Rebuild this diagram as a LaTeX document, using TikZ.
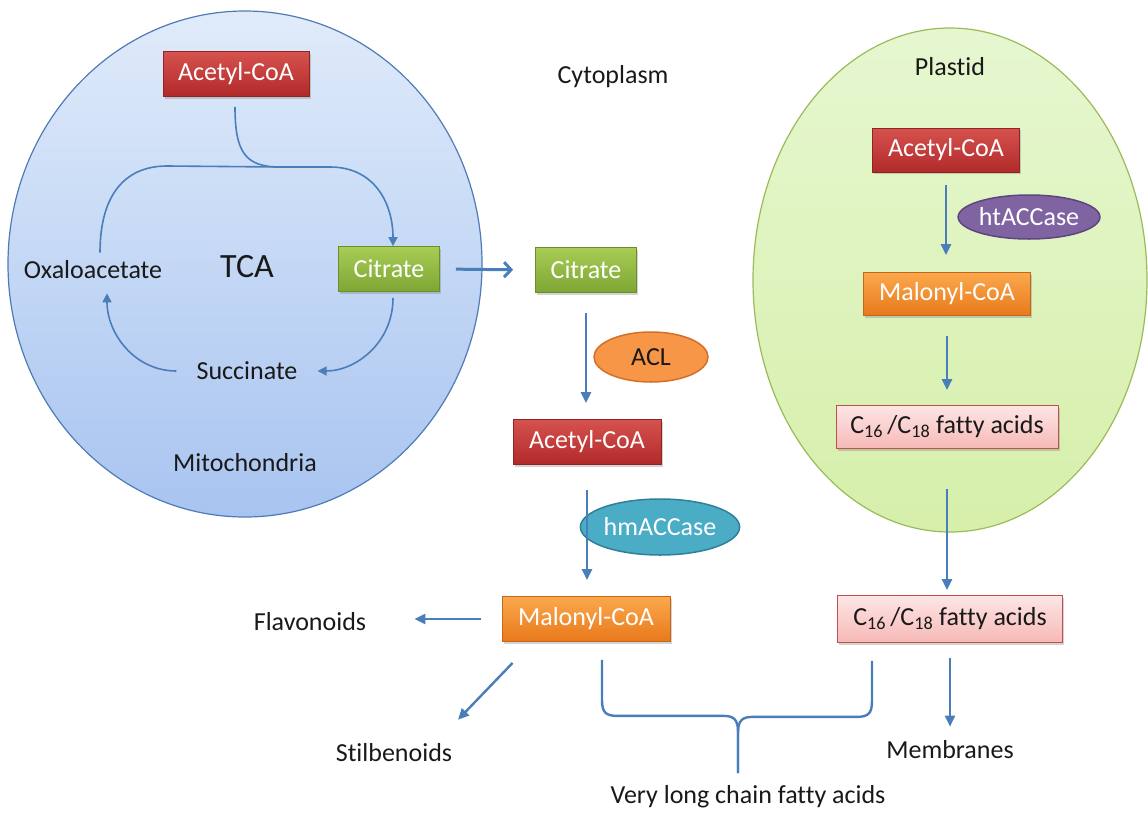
\documentclass[tikz,border=0pt]{standalone}
\usepackage{fontspec}
\setmainfont[Ligatures=NoCommon]{Carlito}
\usetikzlibrary{arrows.meta,shapes.geometric,shadows}
\definecolor{arrowblue}{HTML}{4A7EBB}
\definecolor{redtop}{HTML}{D6524E}
\definecolor{redbot}{HTML}{B02A2A}
\definecolor{redline}{HTML}{8E2424}
\definecolor{greentop}{HTML}{A8CC55}
\definecolor{greenbot}{HTML}{7EA634}
\definecolor{greenline}{HTML}{6B8E2B}
\definecolor{orangetop}{HTML}{FBA84C}
\definecolor{orangebot}{HTML}{E8791C}
\definecolor{orangeline}{HTML}{C4671A}
\definecolor{pinktop}{HTML}{FDE6E5}
\definecolor{pinkbot}{HTML}{F6B9B7}
\definecolor{pinkline}{HTML}{C0504D}
\definecolor{aclfill}{HTML}{F79646}
\definecolor{acldraw}{HTML}{D2702A}
\definecolor{hmfill}{HTML}{4BACC6}
\definecolor{hmdraw}{HTML}{2F7F98}
\definecolor{htfill}{HTML}{8064A2}
\definecolor{htdraw}{HTML}{5D4580}
\definecolor{mitotop}{HTML}{E0EBFA}
\definecolor{mitobot}{HTML}{A8C4F0}
\definecolor{mitoline}{HTML}{4F7BB5}
\definecolor{plastop}{HTML}{E6F7D0}
\definecolor{plasbot}{HTML}{D6EFAA}
\definecolor{plasline}{HTML}{9BBB59}
\newcommand{\fattyacids}{C\textsubscript{16}\,/C\textsubscript{18} fatty acids}
\begin{document}
\begin{tikzpicture}[x=1pt,y=-1pt,
  every node/.style={font=\fontsize{26}{31}\selectfont},
  lbl/.style={inner sep=0pt, text=black!90},
  box/.style={rectangle, minimum height=45pt, inner sep=2pt, line width=0.8pt,
    drop shadow={shadow xshift=1.5pt,shadow yshift=-2pt,opacity=0.35}},
  redbox/.style={box, draw=redline, top color=redtop, bottom color=redbot, text=white},
  greenbox/.style={box, draw=greenline, top color=greentop, bottom color=greenbot, text=white},
  orangebox/.style={box, draw=orangeline, top color=orangetop, bottom color=orangebot, text=white},
  pinkbox/.style={box, draw=pinkline, top color=pinktop, bottom color=pinkbot, text=black!90},
  enz/.style={ellipse, inner sep=0pt, line width=1.5pt},
  arr/.style={draw=arrowblue, line width=2.4pt, -{Triangle[length=11pt,width=10pt]}},
  citarr/.style={draw=arrowblue, line width=3pt, -{Straight Barb[length=7pt,width=15pt]}},
  tcaline/.style={draw=arrowblue, line width=1.6pt},
  tcaarr/.style={tcaline, -{Triangle[length=9pt,width=9pt]}},
  bracestyle/.style={draw=arrowblue, line width=2.4pt},
]
\useasboundingbox (0,0) rectangle (1148,814);

% compartments
\path[draw=mitoline, line width=1.2pt, top color=mitotop, bottom color=mitobot]
  (245,264) ellipse [x radius=237pt, y radius=253pt];
\path[draw=plasline, line width=1.2pt, top color=plastop, bottom color=plasbot]
  (950,280) ellipse [x radius=197pt, y radius=252pt];

% mitochondria
\node[redbox, minimum width=146pt] (macoa) at (236,74) {Acetyl-CoA};
\node[greenbox, minimum width=101pt] (mcit) at (389,269) {Citrate};
\node[lbl, font=\fontsize{34}{40}\selectfont] (tca) at (247,267) {TCA};
\node[lbl] (oxa) at (93,270) {Oxaloacetate};
\node[lbl] (suc) at (247,371) {Succinate};
\node[lbl] (mito) at (245,463) {Mitochondria};

% labels
\node[lbl] (cyto) at (613,77) {Cytoplasm};
\node[lbl] (plas) at (950,67) {Plastid};

% cytoplasm
\node[greenbox, minimum width=101pt] (ccit) at (586,270) {Citrate};
\node[enz, fill=aclfill, draw=acldraw, text=black!90, minimum width=114pt, minimum height=50pt] (acl) at (651,357) {ACL};
\node[redbox, minimum width=148pt] (cacoa) at (587,442) {Acetyl-CoA};
\node[enz, fill=hmfill, draw=hmdraw, text=white, minimum width=134pt, minimum height=56pt] (hm) at (660,527) {hmACCase};
\node[orangebox, minimum width=168pt] (cmal) at (586,619) {Malonyl-CoA};
\node[lbl] (flav) at (310,622) {Flavonoids};
\node[lbl] (stil) at (394,753) {Stilbenoids};
\node[lbl] (vlcfa) at (748,797) {Very long chain fatty acids};

% plastid
\node[redbox, minimum width=147pt, minimum height=44pt] (pacoa) at (946,150) {Acetyl-CoA};
\node[enz, fill=htfill, draw=htdraw, text=white, minimum width=134pt, minimum height=44pt] (ht) at (1029,217) {htACCase};
\node[orangebox, minimum width=167pt, minimum height=43pt] (pmal) at (947,294) {Malonyl-CoA};
\node[pinkbox, minimum width=222pt, minimum height=43pt] (pfa) at (947,427) {\fattyacids};
\node[pinkbox, minimum width=225pt, minimum height=47pt] (ofa) at (950,619) {\fattyacids};
\node[lbl] (memb) at (950,750) {Membranes};

% TCA cycle
\coordinate (merge) at (280,167);
\draw[tcaline] ([shift={(-1,10)}]macoa.south) .. controls +(0,45) and +(-35,0) .. (merge);
\draw[tcaarr] ([shift={(7,-8)}]oxa.north) .. controls +(0,-58) and +(-42,0) .. (167,166)
  -- (merge) -- (330,167) .. controls +(45,0) and +(0,-42) .. ([xshift=4pt]mcit.north);
\draw[tcaarr] ([shift={(4,6)}]mcit.south) .. controls +(0,45) and +(38,0) .. ([xshift=20pt]suc.east);
\draw[tcaarr] ([xshift=-20pt]suc.west) .. controls +(-42,0) and +(0,40) .. ([shift={(14,14)}]oxa.south);

% transport
\draw[citarr, shorten <=16pt, shorten >=22pt] (mcit.east) -- (ccit.west);

% cytoplasm arrows
\draw[arr, shorten <=20pt, shorten >=16pt] (ccit.south) -- (ccit.south |- cacoa.north);
\draw[arr, shorten <=25pt, shorten >=16pt] (cacoa.south) -- (cacoa.south |- cmal.north);
\draw[arr, shorten <=21pt, shorten >=48pt] (cmal.west) -- (cmal.west -| flav.east);
\draw[arr] ([shift={(11,21)}]cmal.south west) -- ([shift={(64,-24)}]stil.north);

% plastid arrows
\draw[arr, shorten <=13pt, shorten >=17pt] (pacoa.south) -- (pacoa.south |- pmal.north);
\draw[arr, shorten <=20pt, shorten >=15pt] (pmal.south) -- (pmal.south |- pfa.north);
\draw[arr, shorten <=40pt, shorten >=5pt] (pfa.south) -- (pfa.south |- ofa.north);
\draw[arr, shorten <=15pt, shorten >=14pt] (ofa.south) -- (ofa.south |- memb.north);

% brace
\coordinate (tip) at (738,773);
\draw[bracestyle] ([shift={(16,18)}]cmal.south) -- ++(0,40) .. controls +(0,13) and +(-12,0) .. ++(16,16)
  -- ++(106,0) .. controls +(10,0) and +(0,-12) .. ++(14,16) -- (tip);
\draw[bracestyle] ([shift={(-78,18)}]ofa.south) -- ++(0,40) .. controls +(0,13) and +(12,0) .. ++(-16,16)
  -- ++(-104,0) .. controls +(-10,0) and +(0,-12) .. ++(-14,16) -- (tip);
\end{tikzpicture}
\end{document}
